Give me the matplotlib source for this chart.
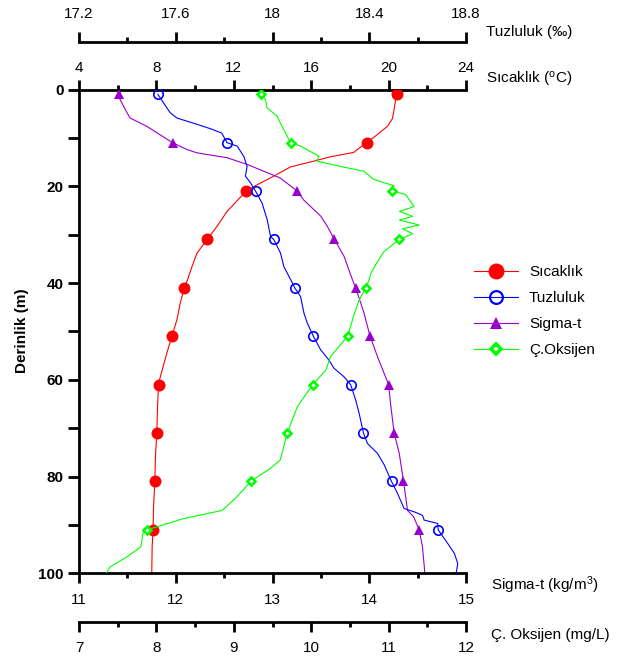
import matplotlib
matplotlib.use("Agg")
import matplotlib.pyplot as plt
from matplotlib.lines import Line2D
from matplotlib.ticker import MultipleLocator

plt.rcParams["font.family"] = ["Liberation Sans", "DejaVu Sans"]
plt.rcParams["mathtext.fontset"] = "custom"
plt.rcParams["mathtext.rm"] = "Liberation Sans"
plt.rcParams["mathtext.it"] = "Liberation Sans"

# ---- station samples (every 10 m, starting at 1 m) ----
station_depth = [1, 11, 21, 31, 41, 51, 61, 71, 81, 91]
temp_pts = [20.41, 18.88, 12.64, 10.62, 9.44, 8.80, 8.11, 8.02, 7.92, 7.83]
sal_pts = [17.526, 17.812, 17.930, 18.005, 18.092, 18.169, 18.323, 18.376, 18.492, 18.685]
sigma_pts = [11.41, 11.967, 13.256, 13.64, 13.86, 14.008, 14.20, 14.257, 14.354, 14.516]
oxy_pts = [9.345, 9.733, 11.05, 11.14, 10.705, 10.47, 10.02, 9.69, 9.22, 7.877]

# ---- continuous CTD profiles ----
temp_depth = [1, 4, 6, 7.6, 9.3, 11, 12.4, 13, 13.9, 14.8, 16, 17.9, 19.7, 21,
              25.2, 28.3, 31, 33.8, 36.6, 39.3, 41, 44.2, 47.6, 51, 54.5, 59.4,
              61, 65.6, 71, 75.9, 81, 86.3, 91, 94.5, 100]
temp_line = [20.41, 20.29, 20.2, 19.94, 19.42, 18.88, 18.38, 18.2, 17.0, 16.14,
             14.93, 14.07, 13.2, 12.64, 11.65, 11.13, 10.62, 10.1, 9.84, 9.61,
             9.44, 9.23, 9.06, 8.80, 8.54, 8.20, 8.11, 8.06, 8.02, 7.95, 7.92,
             7.85, 7.83, 7.78, 7.76]

sal_depth = [1, 2.8, 4.8, 5.9, 7.2, 8.1, 9.0, 11, 11.7, 13.8, 15.9, 17.9, 19.3,
             21, 23.5, 26.9, 30.4, 31, 33.8, 36.6, 39.3, 41, 42.8, 46.2, 48.3,
             51, 53.8, 55.9, 57.6, 59.4, 61, 64.2, 66.9, 71, 73.2, 75.2, 77.6,
             81, 83.5, 86.6, 87.3, 88, 89, 89.7, 91, 93.8, 95.9, 98, 100]
sal_line = [17.526, 17.55, 17.577, 17.605, 17.688, 17.743, 17.79, 17.812,
            17.854, 17.881, 17.895, 17.888, 17.909, 17.93, 17.957, 17.978,
            17.992, 18.005, 18.033, 18.047, 18.075, 18.092, 18.116, 18.13,
            18.144, 18.169, 18.199, 18.233, 18.254, 18.296, 18.323, 18.344,
            18.358, 18.376, 18.393, 18.434, 18.462, 18.492, 18.517, 18.544,
            18.586, 18.62, 18.627, 18.683, 18.685, 18.724, 18.752, 18.766,
            18.759]

sigma_depth = [1, 2.1, 4.1, 5.9, 7.6, 11, 12.4, 13.1, 14.1, 15.5, 16.9, 18.3,
               21, 22.8, 26.2, 28.3, 31, 34.5, 37.3, 39.3, 41, 46.2, 51, 55.2,
               61, 64.9, 71, 75.2, 81, 87, 88.3, 91, 94.5, 100]
sigma_line = [11.41, 11.425, 11.477, 11.528, 11.70, 11.967, 12.116, 12.22,
              12.53, 12.74, 12.91, 13.08, 13.256, 13.32, 13.5, 13.567, 13.64,
              13.74, 13.79, 13.826, 13.86, 13.946, 14.008, 14.085, 14.2, 14.22,
              14.257, 14.31, 14.354, 14.396, 14.458, 14.516, 14.55, 14.575]

oxy_depth = [1, 2.1, 3.8, 5.5, 6.9, 8.3, 11, 11.7, 13.8, 14.8, 15.9, 16.9,
             18.6, 19.9, 21, 21.7, 24.2, 25.2, 26.2, 27.0, 28, 28.8, 29.8, 31,
             33.5, 35.5, 38, 39.3, 41, 43.5, 46.2, 51, 55.2, 58, 61, 65.6, 71,
             76.6, 78.3, 81, 84.2, 87, 88.7, 90.4, 91, 91.8, 94.5, 96.6, 98.7,
             100]
oxy_line = [9.345, 9.41, 9.43, 9.56, 9.60, 9.646, 9.733, 9.863, 10.1, 10.07,
            10.38, 10.68, 10.81, 11.07, 11.05, 11.22, 11.33, 11.14, 11.31,
            11.14, 11.395, 11.18, 11.31, 11.14, 10.94, 10.86, 10.77, 10.75,
            10.705, 10.62, 10.56, 10.47, 10.25, 10.19, 10.02, 9.82, 9.69, 9.60,
            9.474, 9.22, 9.04, 8.85, 8.35, 8.006, 7.877, 7.825, 7.80, 7.62,
            7.40, 7.35]

series_names = ["Sıcaklık", "Tuzluluk", "Sigma-t", "Ç.Oksijen"]
c_temp, c_sal, c_sig, c_oxy = "#ff0000", "#0000ff", "#9900cc", "#00ff00"

W_PX, H_PX = 619, 659
fig = plt.figure(figsize=(W_PX / 100, H_PX / 100), dpi=100)

left, right, top, bottom = 79, 466, 89.5, 573.3
ax = fig.add_axes([left / W_PX, 1 - bottom / H_PX,
                   (right - left) / W_PX, (bottom - top) / H_PX])
ax_sig = ax.twiny()
ax_sal = ax.twiny()
ax_oxy = ax.twiny()

SPW = 2.0
for a in (ax, ax_sig, ax_sal, ax_oxy):
    a.set_facecolor("none")
    for s in a.spines.values():
        s.set_visible(False)
        s.set_linewidth(SPW)
    a.tick_params(which="major", length=7.2, width=SPW, colors="black",
                  labelsize=11)
    a.tick_params(which="minor", length=3.6, width=SPW)

# depth axis
ax.set_ylim(100, 0)
ax.spines["left"].set_visible(True)
ax.yaxis.set_major_locator(MultipleLocator(20))
ax.yaxis.set_minor_locator(MultipleLocator(10))
ax.tick_params(axis="y", which="both", length=7.6, pad=3.5)
for lab in ax.get_yticklabels():
    lab.set_fontweight("bold")

# temperature (top)
ax.set_xlim(4, 24)
ax.spines["top"].set_visible(True)
ax.xaxis.set_ticks_position("top")
ax.xaxis.set_major_locator(MultipleLocator(4))
ax.xaxis.set_minor_locator(MultipleLocator(2))
ax.tick_params(axis="x", which="major", pad=3)

# salinity (top, offset)
ax_sal.set_xlim(17.2, 18.8)
ax_sal.spines["top"].set_visible(True)
ax_sal.spines["top"].set_position(("outward", 34.4))
ax_sal.xaxis.set_ticks_position("top")
ax_sal.xaxis.set_major_locator(MultipleLocator(0.4))
ax_sal.xaxis.set_minor_locator(MultipleLocator(0.2))
ax_sal.xaxis.set_major_formatter(lambda v, p: f"{v:g}")
ax_sal.tick_params(axis="x", which="major", pad=7.5)

# sigma-t (bottom)
ax_sig.set_xlim(11, 15)
ax_sig.spines["bottom"].set_visible(True)
ax_sig.xaxis.set_ticks_position("bottom")
ax_sig.xaxis.set_major_locator(MultipleLocator(1))
ax_sig.xaxis.set_minor_locator(MultipleLocator(0.5))
ax_sig.tick_params(axis="x", which="major", pad=6.8)

# dissolved oxygen (bottom, offset)
ax_oxy.set_xlim(7, 12)
ax_oxy.spines["bottom"].set_visible(True)
ax_oxy.spines["bottom"].set_position(("outward", 34.8))
ax_oxy.xaxis.set_ticks_position("bottom")
ax_oxy.xaxis.set_major_locator(MultipleLocator(1))
ax_oxy.xaxis.set_minor_locator(MultipleLocator(0.5))
ax_oxy.tick_params(axis="x", which="major", pad=6.8)

LW = 0.8
ax.plot(temp_line, temp_depth, color=c_temp, lw=LW, zorder=2)
ax.plot(temp_pts, station_depth, ls="none", marker="o", ms=8.6,
        mfc=c_temp, mec=c_temp, mew=0, zorder=3)

ax_sal.plot(sal_line, sal_depth, color=c_sal, lw=LW, zorder=2)
ax_sal.plot(sal_pts, station_depth, ls="none", marker="o", ms=6.8,
            mfc="none", mec=c_sal, mew=1.2, zorder=3)

ax_sig.plot(sigma_line, sigma_depth, color=c_sig, lw=LW, zorder=2)
ax_sig.plot(sigma_pts, station_depth, ls="none", marker="^", ms=7.4,
            mfc=c_sig, mec=c_sig, mew=0, zorder=3)

ax_oxy.plot(oxy_line, oxy_depth, color=c_oxy, lw=LW, zorder=2)
ax_oxy.plot(oxy_pts, station_depth, ls="none", marker="D", ms=4.0,
            mfc="white", mec=c_oxy, mew=1.9, zorder=3)

handles = [
    Line2D([], [], color=c_temp, lw=LW, marker="o", ms=11.5, mfc=c_temp, mew=0),
    Line2D([], [], color=c_sal, lw=LW, marker="o", ms=9.2, mfc="none",
           mec=c_sal, mew=1.6),
    Line2D([], [], color=c_sig, lw=LW, marker="^", ms=8.5, mfc=c_sig, mew=0),
    Line2D([], [], color=c_oxy, lw=LW, marker="D", ms=5.6, mfc="white",
           mec=c_oxy, mew=2.6),
]
fig.legend(handles, series_names, loc="upper left",
           bbox_to_anchor=(474 / W_PX, 1 - 265.5 / H_PX),
           frameon=False, fontsize=11, handlelength=2.9, handletextpad=0.7,
           labelspacing=0.78, borderpad=0, borderaxespad=0)


def ftext(x, y, s, **kw):
    fig.text(x / W_PX, 1 - y / H_PX, s, **kw)


ftext(486, 32, "Tuzluluk (‰)", fontsize=11, va="center", ha="left")
ftext(486, 79, r"Sıcaklık ($\mathregular{^o}$C)", fontsize=11, va="center",
      ha="left")
ftext(491, 585, r"Sigma-t (kg/m$\mathregular{^3}$)", fontsize=11,
      va="center", ha="left")
ftext(491, 635, "Ç. Oksijen (mg/L)", fontsize=11, va="center", ha="left")
ftext(22, 331, "Derinlik (m)", fontsize=11, fontweight="bold", rotation=90,
      va="center", ha="center")

fig.savefig("out.png", dpi=100)
